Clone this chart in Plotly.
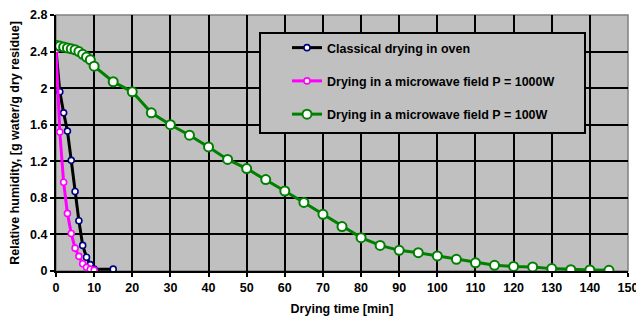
import plotly.graph_objects as go

# Classical drying in oven
t_oven = [0, 1, 2, 3, 4, 5, 6, 7, 8, 9, 10, 15]
h_oven = [2.42, 1.96, 1.73, 1.53, 1.21, 0.87, 0.55, 0.28, 0.15, 0.07, 0.02, 0.02]

# Microwave 1000 W
t_mw1000 = [0, 1, 2, 3, 4, 5, 6, 7, 8, 9, 10]
h_mw1000 = [2.42, 1.52, 0.97, 0.63, 0.41, 0.25, 0.16, 0.08, 0.04, 0.02, 0.01]

# Microwave 100 W
t_mw100 = [0, 1, 2, 3, 4, 5, 6, 7, 8, 9, 10, 15, 20, 25, 30, 35, 40, 45, 50, 55, 60,
           65, 70, 75, 80, 85, 90, 95, 100, 105, 110, 115, 120, 125, 130, 135, 140, 145]
h_mw100 = [2.47, 2.46, 2.45, 2.44, 2.43, 2.42, 2.40, 2.37, 2.34, 2.31, 2.24, 2.07, 1.96, 1.73,
           1.60, 1.485, 1.357, 1.22, 1.12, 1.00, 0.875, 0.75, 0.62, 0.486, 0.365, 0.28,
           0.226, 0.20, 0.165, 0.128, 0.09, 0.062, 0.05, 0.044, 0.026, 0.015, 0.011, 0.008]

names = ["Classical drying in oven",
         "Drying in a microwave field P = 1000W",
         "Drying in a microwave field P = 100W"]

x_ticks = list(range(0, 151, 10))
y_ticks = [0, 0.4, 0.8, 1.2, 1.6, 2, 2.4, 2.8]

FONT = "Liberation Sans, Arial, sans-serif"
FS = 12.5

# plot area in pixels
L, R, T, B = 56, 628, 15, 271
W_PA, H_PA = R - L, B - T

fig = go.Figure()
fig.add_trace(go.Scatter(
    x=t_oven, y=h_oven, name=names[0], mode="lines+markers", legendgroup="a",
    line=dict(color="#000000", width=3),
    marker=dict(symbol="circle", size=6, color="white", line=dict(color="#000080", width=1.6))))
fig.add_trace(go.Scatter(
    x=t_mw1000, y=h_mw1000, name=names[1], mode="lines+markers", legendgroup="b",
    line=dict(color="#FF00FF", width=3),
    marker=dict(symbol="circle", size=6, color="white", line=dict(color="#FF00FF", width=1.6))))
fig.add_trace(go.Scatter(
    x=t_mw100, y=h_mw100, name=names[2], mode="lines+markers", legendgroup="c",
    line=dict(color="#008000", width=3),
    marker=dict(symbol="circle", size=9, color="white", line=dict(color="#008000", width=2))))

# legend box background (drawn as a shape)
fig.add_shape(type="rect", xref="paper", yref="paper",
              x0=(260 - L) / W_PA, x1=(585 - L) / W_PA,
              y0=(B - 133) / H_PA, y1=(B - 33) / H_PA,
              fillcolor="#C0C0C0", line=dict(color="#000000", width=2), layer="above")
# gray plot border on top/right
fig.add_shape(type="rect", xref="paper", yref="paper", x0=0, x1=1, y0=0, y1=1,
              line=dict(color="#808080", width=1.5), layer="below")

axis_common = dict(
    showgrid=True, gridcolor="black", gridwidth=2,
    showline=True, linecolor="black", linewidth=2,
    ticks="outside", ticklen=4, tickwidth=2, tickcolor="black",
    zeroline=False, automargin=False, ticklabeloverflow="allow",
    tickfont=dict(family=FONT, size=FS, weight="bold"),
)

fig.update_layout(
    width=636, height=322,
    margin=dict(l=L, r=636 - R, t=T, b=322 - B, autoexpand=False),
    paper_bgcolor="white", plot_bgcolor="#C0C0C0",
    font=dict(family=FONT, size=FS, color="black"),
    showlegend=True,
    legend=dict(x=(287 - L) / W_PA, y=(B - 33) / H_PA, xanchor="left", yanchor="top",
                bgcolor="rgba(0,0,0,0)", borderwidth=0,
                font=dict(family=FONT, size=FS, color="black", weight="bold"),
                tracegroupgap=14, itemwidth=30),
    xaxis=dict(range=[0, 150], tickvals=x_ticks, ticktext=[str(v) for v in x_ticks],
               title=dict(text="Drying time [min]", standoff=10,
                          font=dict(family=FONT, size=FS, weight="bold")),
               **axis_common),
    yaxis=dict(range=[0, 2.8], tickvals=y_ticks, ticktext=[f"{v:g}" for v in y_ticks],
               title=dict(text="Relative humidity, [g water/g dry residue]", standoff=8,
                          font=dict(family=FONT, size=FS, weight="bold")),
               **axis_common),
)

fig.write_html("out.html", config={"displayModeBar": False},
               post_script="document.body.style.margin='0';document.body.style.overflow='hidden';")
